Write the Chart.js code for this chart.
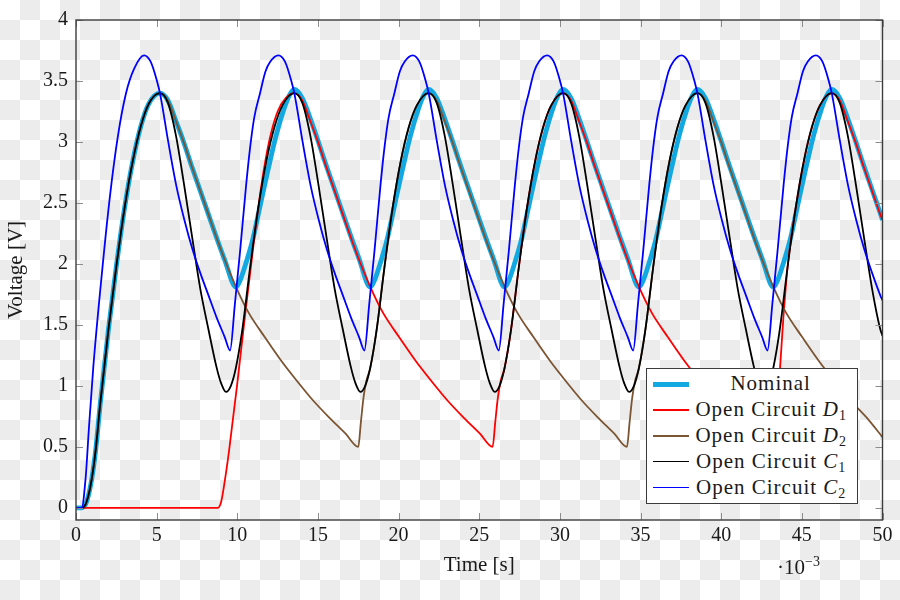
<!DOCTYPE html>
<html>
<head>
<meta charset="utf-8">
<script src="https://cdn.jsdelivr.net/npm/chart.js"></script>
<style>
html,body{margin:0;padding:0;}
body{width:900px;height:600px;overflow:hidden;position:relative;
  background:repeating-conic-gradient(#ececec 0 25%, #ffffff 0 50%) 0 0 / 40px 40px;}
#c{position:absolute;left:0;top:0;}
.legend{position:absolute;left:646px;top:368px;width:212px;height:136px;box-sizing:border-box;
  border:1.3px solid #3a3a3a;background:#fff;font-family:"Liberation Serif","DejaVu Serif",serif;
  font-size:21px;color:#1a1a1a;}
.row{position:absolute;left:0;width:100%;height:25.8px;}
.sample{position:absolute;left:5.7px;width:36px;}
.txt{position:absolute;left:47.7px;width:152px;text-align:center;line-height:25.8px;letter-spacing:1px;white-space:nowrap;}
.txt sub{font-size:14px;vertical-align:-4px;line-height:0;letter-spacing:0;}
.exp{position:absolute;left:777px;top:557px;font-family:"Liberation Serif","DejaVu Serif",serif;font-size:21px;line-height:21px;color:#1a1a1a;white-space:nowrap;}
.exp sup{font-size:14px;vertical-align:8px;line-height:0;}
</style>
</head>
<body>
<canvas id="c" width="900" height="600"></canvas>
<div class="legend" id="legend"></div>
<div class="exp">·10<sup>−3</sup></div>
<script>
// ---- data (time in 10^-3 s, voltage in V) ----
const xTicks = [0,5,10,15,20,25,30,35,40,45,50];
const yTicks = [0,0.5,1,1.5,2,2.5,3,3.5,4];
const seriesNames = ['Nominal','Open Circuit D_1','Open Circuit D_2','Open Circuit C_1','Open Circuit C_2'];

const nomT = [0,0.35,0.6,0.9,1.2,1.5,2,2.5,3,3.5,4,4.5,5.2,
 5.7,6.2,6.7,7.2,7.7,8.2,8.7,9.2,9.92,
 10.22,10.52,10.92,11.42,11.92,12.42,12.92,13.22,13.53,
 14.03,14.53,15.03,15.53,16.03,16.53,17.03,17.53,18.25,
 18.55,18.85,19.25,19.75,20.25,20.75,21.25,21.55,21.86,
 22.36,22.86,23.36,23.86,24.36,24.86,25.36,25.86,26.58,
 26.88,27.18,27.58,28.08,28.58,29.08,29.58,29.88,30.19,
 30.69,31.19,31.69,32.19,32.69,33.19,33.69,34.19,34.91,
 35.21,35.51,35.91,36.41,36.91,37.41,37.91,38.21,38.52,
 39.02,39.52,40.02,40.52,41.02,41.52,42.02,42.52,43.24,
 43.54,43.84,44.24,44.74,45.24,45.74,46.24,46.54,46.85,
 47.35,47.85,48.35,48.85,49.35,49.85,50];
const nomV = [0,0,0.03,0.18,0.45,0.85,1.45,1.98,2.45,2.83,3.12,3.31,3.40,
 3.34,3.17,2.99,2.79,2.60,2.41,2.22,2.04,1.81,
 1.88,2.00,2.18,2.48,2.78,3.06,3.28,3.38,3.43,
 3.36,3.19,3.00,2.80,2.61,2.42,2.23,2.05,1.81,
 1.88,2.00,2.18,2.48,2.78,3.06,3.28,3.38,3.43,
 3.36,3.19,3.00,2.80,2.61,2.42,2.23,2.05,1.81,
 1.88,2.00,2.18,2.48,2.78,3.06,3.28,3.38,3.43,
 3.36,3.19,3.00,2.80,2.61,2.42,2.23,2.05,1.81,
 1.88,2.00,2.18,2.48,2.78,3.06,3.28,3.38,3.43,
 3.36,3.19,3.00,2.80,2.61,2.42,2.23,2.05,1.81,
 1.88,2.00,2.18,2.48,2.78,3.06,3.28,3.38,3.43,
 3.36,3.19,3.00,2.80,2.61,2.42,2.36];

const d1T = [0,8.8,9.0,9.2,9.5,10.0,10.5,11.0,11.5,12.0,12.5,13.0,13.53,
 14.03,14.53,15.03,15.53,16.03,16.53,17.03,17.53,18.25,19.03,20.03,21.03,22.03,23.03,24.03,25.03,25.83,
 25.99,26.15,26.33,26.56,26.96,27.46,27.96,28.46,28.96,29.46,30.19,
 30.69,31.19,31.69,32.19,32.69,33.19,33.69,34.19,34.91,35.69,36.69,37.69,38.69,39.69,40.69,41.69,42.49,43.15,
 43.4,43.65,43.85,44.12,44.62,45.12,45.62,46.12,46.85,
 47.35,47.85,48.35,48.85,49.35,49.85,50];
const d1V = [0,0,0.05,0.2,0.48,1.02,1.6,2.15,2.65,3.02,3.25,3.36,3.40,
 3.34,3.17,2.99,2.79,2.60,2.41,2.22,2.04,1.81,1.60,1.40,1.21,1.04,0.88,0.74,0.61,0.50,
 0.70,0.90,1.04,1.14,1.45,1.98,2.46,2.84,3.12,3.30,3.40,
 3.34,3.17,2.99,2.79,2.60,2.41,2.22,2.04,1.81,1.60,1.40,1.21,1.04,0.88,0.74,0.61,0.50,0.42,
 0.75,1.15,1.55,1.98,2.46,2.84,3.12,3.30,3.40,
 3.34,3.17,2.99,2.79,2.60,2.41,2.36];

const d2T = [0,0.35,0.6,0.9,1.2,1.5,2,2.5,3,3.5,4,4.5,5.2,
 5.7,6.2,6.7,7.2,7.7,8.2,8.7,9.2,9.92,10.7,11.7,12.7,13.7,14.7,15.7,16.7,17.5,
 17.66,17.82,18.0,18.23,18.63,19.13,19.63,20.13,20.63,21.13,21.86,
 22.36,22.86,23.36,23.86,24.36,24.86,25.36,25.86,26.58,27.36,28.36,29.36,30.36,31.36,32.36,33.36,34.16,
 34.32,34.48,34.66,34.89,35.29,35.79,36.29,36.79,37.29,37.79,38.52,
 39.02,39.52,40.02,40.52,41.02,41.52,42.02,42.52,43.24,44.02,45.02,46.02,47.02,48.02,49.02,50];
const d2V = [0,0,0.03,0.18,0.45,0.85,1.45,1.98,2.45,2.83,3.12,3.31,3.40,
 3.34,3.17,2.99,2.79,2.60,2.41,2.22,2.04,1.81,1.60,1.40,1.21,1.04,0.88,0.74,0.61,0.50,
 0.70,0.90,1.04,1.14,1.45,1.98,2.46,2.84,3.12,3.30,3.40,
 3.34,3.17,2.99,2.79,2.60,2.41,2.22,2.04,1.81,1.60,1.40,1.21,1.04,0.88,0.74,0.61,0.50,
 0.70,0.90,1.04,1.14,1.45,1.98,2.46,2.84,3.12,3.30,3.40,
 3.34,3.17,2.99,2.79,2.60,2.41,2.22,2.04,1.81,1.60,1.40,1.21,1.04,0.88,0.74,0.58];

const c1T = [0,0.35,0.6,0.9,1.2,1.5,2,2.5,3,3.5,4,4.5,5.2,
 5.7,6.2,6.7,7.2,7.7,8.2,8.7,9.0,9.3,
 9.6,9.9,10.3,10.8,11.3,11.8,12.3,12.8,13.53,
 14.03,14.53,15.03,15.53,16.03,16.53,17.03,17.33,17.63,
 17.93,18.23,18.63,19.13,19.63,20.13,20.63,21.13,21.86,
 22.36,22.86,23.36,23.86,24.36,24.86,25.36,25.66,25.96,
 26.26,26.56,26.96,27.46,27.96,28.46,28.96,29.46,30.19,
 30.69,31.19,31.69,32.19,32.69,33.19,33.69,33.99,34.29,
 34.59,34.89,35.29,35.79,36.29,36.79,37.29,37.79,38.52,
 39.02,39.52,40.02,40.52,41.02,41.52,42.02,42.32,42.62,
 42.92,43.22,43.62,44.12,44.62,45.12,45.62,46.12,46.85,
 47.35,47.85,48.35,48.85,49.35,49.85,50];
const c1V = [0,0,0.03,0.18,0.45,0.85,1.45,1.98,2.45,2.83,3.12,3.31,3.40,
 3.32,3.05,2.65,2.22,1.80,1.47,1.16,1.02,0.95,
 1.00,1.14,1.45,1.98,2.46,2.84,3.12,3.30,3.40,
 3.32,3.05,2.65,2.22,1.80,1.47,1.16,1.02,0.95,
 1.00,1.14,1.45,1.98,2.46,2.84,3.12,3.30,3.40,
 3.32,3.05,2.65,2.22,1.80,1.47,1.16,1.02,0.95,
 1.00,1.14,1.45,1.98,2.46,2.84,3.12,3.30,3.40,
 3.32,3.05,2.65,2.22,1.80,1.47,1.16,1.02,0.95,
 1.00,1.14,1.45,1.98,2.46,2.84,3.12,3.30,3.40,
 3.32,3.05,2.65,2.22,1.80,1.47,1.16,1.02,0.95,
 1.00,1.14,1.45,1.98,2.46,2.84,3.12,3.30,3.40,
 3.32,3.05,2.65,2.22,1.80,1.47,1.41];

const c2T = [0,0.35,0.6,0.8,1.07,1.5,2.1,2.6,3.1,3.6,4.22,
 4.62,5.02,5.22,5.72,6.22,6.72,7.22,7.72,8.22,8.72,9.22,9.55,
 9.85,10.17,10.55,10.79,11.05,11.41,11.75,12.05,12.55,
 12.95,13.35,13.55,14.05,14.55,15.05,15.55,16.05,16.55,17.05,17.55,17.88,
 18.18,18.5,18.88,19.12,19.38,19.74,20.08,20.38,20.88,
 21.28,21.68,21.88,22.38,22.88,23.38,23.88,24.38,24.88,25.38,25.88,26.21,
 26.51,26.83,27.21,27.45,27.71,28.07,28.41,28.71,29.21,
 29.61,30.01,30.21,30.71,31.21,31.71,32.21,32.71,33.21,33.71,34.21,34.54,
 34.84,35.16,35.54,35.78,36.04,36.4,36.74,37.04,37.54,
 37.94,38.34,38.54,39.04,39.54,40.04,40.54,41.04,41.54,42.04,42.54,42.87,
 43.17,43.49,43.87,44.11,44.37,44.73,45.07,45.37,45.87,
 46.27,46.67,46.87,47.37,47.87,48.37,48.87,49.37,49.87,50];
const c2V = [0,0,0.25,0.65,1.15,1.78,2.55,3.05,3.40,3.60,3.71,
 3.66,3.50,3.39,3.00,2.64,2.36,2.12,1.92,1.74,1.56,1.40,1.29,
 1.67,2.10,2.65,2.95,3.20,3.40,3.58,3.66,3.71,
 3.66,3.50,3.39,3.00,2.64,2.36,2.12,1.92,1.74,1.56,1.40,1.29,
 1.67,2.10,2.65,2.95,3.20,3.40,3.58,3.66,3.71,
 3.66,3.50,3.39,3.00,2.64,2.36,2.12,1.92,1.74,1.56,1.40,1.29,
 1.67,2.10,2.65,2.95,3.20,3.40,3.58,3.66,3.71,
 3.66,3.50,3.39,3.00,2.64,2.36,2.12,1.92,1.74,1.56,1.40,1.29,
 1.67,2.10,2.65,2.95,3.20,3.40,3.58,3.66,3.71,
 3.66,3.50,3.39,3.00,2.64,2.36,2.12,1.92,1.74,1.56,1.40,1.29,
 1.67,2.10,2.65,2.95,3.20,3.40,3.58,3.66,3.71,
 3.66,3.50,3.39,3.00,2.64,2.36,2.12,1.92,1.74,1.70];

// ---- styling ----
const FONT = '"Liberation Serif", "DejaVu Serif", serif';
const TEXT = '#1a1a1a';
const styles = [
  {color:'#12a8e2', width:4.8, order:5},
  {color:'#ff0000', width:1.8, order:4},
  {color:'#7b5533', width:1.8, order:3},
  {color:'#000000', width:1.8, order:2},
  {color:'#0000ff', width:1.8, order:1}
];
const seriesT = [nomT, d1T, d2T, c1T, c2T];
const seriesV = [nomV, d1V, d2V, c1V, c2V];

const datasets = seriesNames.map((name, k) => ({
  label: name,
  data: seriesT[k].map((t, i) => ({x: t, y: seriesV[k][i]})),
  borderColor: styles[k].color,
  borderWidth: styles[k].width,
  pointRadius: 0,
  fill: false,
  cubicInterpolationMode: 'monotone',
  order: styles[k].order
}));

const framePlugin = {
  id: 'frame',
  afterDraw(chart) {
    const {ctx, chartArea: a, scales: {x, y}} = chart;
    ctx.save();
    ctx.strokeStyle = '#8c8c8c';
    ctx.lineWidth = 1;
    ctx.beginPath();
    x.ticks.forEach(t => {
      const px = Math.round(x.getPixelForValue(t.value)) + 0.5;
      ctx.moveTo(px, a.bottom); ctx.lineTo(px, a.bottom - 7);
      ctx.moveTo(px, a.top); ctx.lineTo(px, a.top + 7);
    });
    y.ticks.forEach(t => {
      const py = Math.round(y.getPixelForValue(t.value)) + 0.5;
      ctx.moveTo(a.left, py); ctx.lineTo(a.left + 7, py);
      ctx.moveTo(a.right, py); ctx.lineTo(a.right - 7, py);
    });
    ctx.stroke();
    ctx.strokeStyle = '#3c3c3c';
    ctx.lineWidth = 1.4;
    ctx.strokeRect(a.left, a.top, a.right - a.left, a.bottom - a.top);
    ctx.restore();
  }
};

new Chart(document.getElementById('c'), {
  type: 'line',
  data: {datasets},
  options: {
    responsive: false,
    animation: false,
    devicePixelRatio: 1,
    layout: {padding: {top: 14.5, right: 17.5, bottom: 0, left: 0}},
    plugins: {legend: {display: false}, tooltip: {enabled: false}},
    scales: {
      x: {
        type: 'linear', min: 0, max: 50, position: 'bottom',
        grid: {display: false, drawTicks: false}, border: {display: false},
        afterBuildTicks: s => { s.ticks = xTicks.map(v => ({value: v})); },
        afterFit: s => { s.height = 80; },
        ticks: {autoSkip: false, maxRotation: 0, padding: 3.7, color: TEXT,
                font: {family: FONT, size: 20}, callback: v => String(v)},
        title: {display: true, text: 'Time [s]', color: TEXT,
                font: {family: FONT, size: 21}, padding: {top: 0, bottom: 22}}
      },
      y: {
        type: 'linear', min: -0.1, max: 4, position: 'left',
        grid: {display: false, drawTicks: false}, border: {display: false},
        afterBuildTicks: s => { s.ticks = yTicks.map(v => ({value: v})); },
        afterFit: s => { s.width = 76; },
        ticks: {autoSkip: false, padding: 8, color: TEXT,
                font: {family: FONT, size: 20}, callback: v => String(v)},
        title: {display: true, text: 'Voltage [V]', color: TEXT,
                font: {family: FONT, size: 21}, padding: {top: 4, bottom: 0}}
      }
    }
  },
  plugins: [framePlugin]
});

// ---- legend (HTML, from the series names) ----
const leg = document.getElementById('legend');
seriesNames.forEach((name, k) => {
  const row = document.createElement('div');
  row.className = 'row';
  row.style.top = (2.3 + 25.8 * k) + 'px';
  const s = document.createElement('div');
  s.className = 'sample';
  s.style.height = styles[k].width + 'px';
  s.style.top = (12.9 - styles[k].width / 2) + 'px';
  s.style.background = styles[k].color;
  const t = document.createElement('div');
  t.className = 'txt';
  t.innerHTML = name.replace(/(\w)_(\d)/, '<i>$1</i><sub>$2</sub>');
  row.appendChild(s); row.appendChild(t);
  leg.appendChild(row);
});
</script>
</body>
</html>
